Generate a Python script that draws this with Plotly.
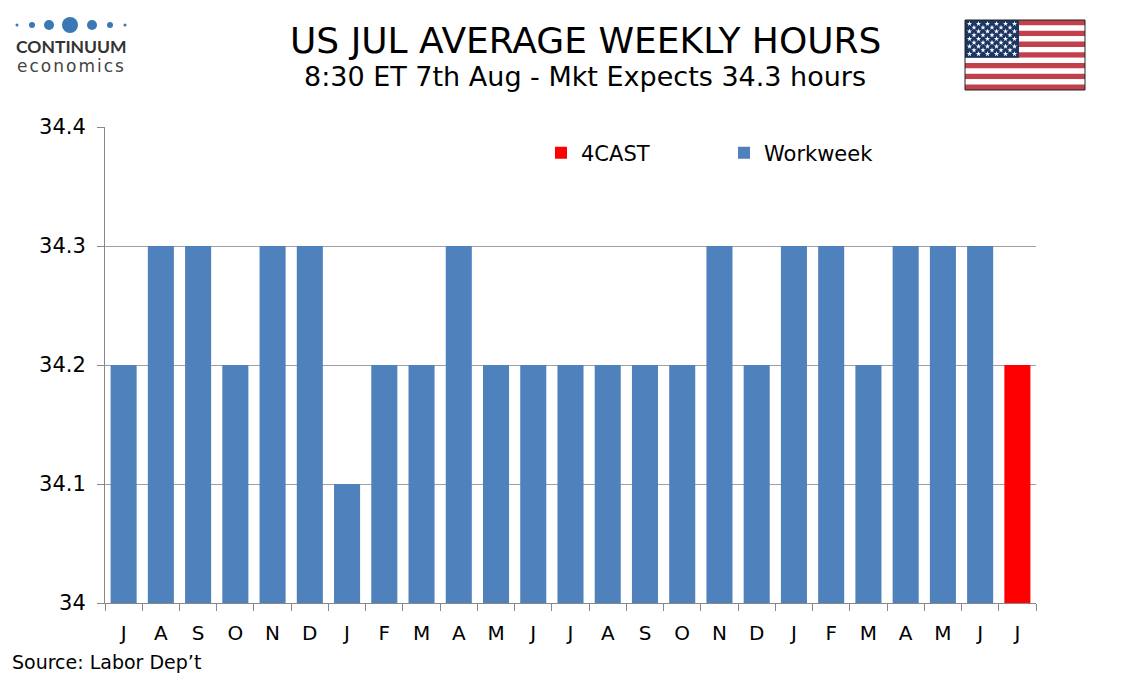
import plotly.graph_objects as go

months = ["J", "A", "S", "O", "N", "D", "J", "F", "M", "A", "M", "J",
          "J", "A", "S", "O", "N", "D", "J", "F", "M", "A", "M", "J", "J"]
workweek = [34.2, 34.3, 34.3, 34.2, 34.3, 34.3, 34.1, 34.2, 34.2, 34.3, 34.2, 34.2,
            34.2, 34.2, 34.2, 34.2, 34.3, 34.2, 34.3, 34.3, 34.2, 34.3, 34.3, 34.3]
forecast = [34.2]
y_ticks = [34.0, 34.1, 34.2, 34.3, 34.4]
y_ticktext = ["34", "34.1", "34.2", "34.3", "34.4"]

# page body margin offset
OX, OY = 8, 8
W, H = 1134 - OX, 680 - OY
L, R, T, B = 105, 1036, 127, 603

def px(x):
    return (x - OX) / W

def py(y):
    return 1 - (y - OY) / H

xs = list(range(len(months)))

fig = go.Figure()
fig.add_trace(go.Bar(x=xs[len(workweek):], y=forecast, name="4CAST",
                     marker=dict(color="#ff0000", line=dict(width=0)), width=0.7))
fig.add_trace(go.Bar(x=xs[:len(workweek)], y=workweek, name="Workweek",
                     marker=dict(color="#4f81bd", line=dict(width=0)), width=0.7))

# Flag stars (decoration)
fx0, fx1, fy0, fy1 = 965, 1085, 20, 90
sh = (fy1 - fy0) / 13
star_x, star_y = [], []
for r in range(9):
    n = 6 if r % 2 == 0 else 5
    off = 1 if r % 2 == 0 else 2
    for c in range(n):
        star_x.append(off + 2 * c)
        star_y.append(9 - r)
fig.add_trace(go.Scatter(x=star_x, y=star_y, mode="markers", xaxis="x2", yaxis="y2",
                         marker=dict(symbol="star", size=4, color="white", line=dict(width=0)),
                         showlegend=False, hoverinfo="skip"))

shapes = []
for i in range(13):
    shapes.append(dict(type="rect", xref="paper", yref="paper",
                       x0=px(fx0), x1=px(fx1), y0=py(fy0 + i * sh), y1=py(fy0 + (i + 1) * sh),
                       fillcolor="#c0404c" if i % 2 == 0 else "white", line=dict(width=0), layer="below"))
shapes.append(dict(type="rect", xref="paper", yref="paper",
                   x0=px(fx0), x1=px(1019), y0=py(fy0), y1=py(fy0 + 7 * sh),
                   fillcolor="#1c3664", line=dict(width=0), layer="below"))
shapes.append(dict(type="rect", xref="paper", yref="paper",
                   x0=px(fx0), x1=px(fx1), y0=py(fy0), y1=py(fy1),
                   fillcolor="rgba(0,0,0,0)", line=dict(width=1, color="#222"), layer="above"))
# logo dots
for cx, d in [(17, 3), (32, 6), (49, 10), (70, 16), (92, 10), (110, 6), (125, 3)]:
    shapes.append(dict(type="circle", xref="paper", yref="paper",
                       x0=px(cx - d / 2), x1=px(cx + d / 2), y0=py(25 + d / 2), y1=py(25 - d / 2),
                       fillcolor="#3b78b4", line=dict(width=0)))

annotations = [
    dict(text="US JUL AVERAGE WEEKLY HOURS", x=px(585), y=py(40), xref="paper", yref="paper",
         showarrow=False, font=dict(size=36, color="#000", family="DejaVu Sans"),
         xanchor="center", yanchor="middle"),
    dict(text="8:30 ET 7th Aug - Mkt Expects 34.3 hours", x=px(585), y=py(77), xref="paper", yref="paper",
         showarrow=False, font=dict(size=27, color="#000", family="DejaVu Sans"),
         xanchor="center", yanchor="middle"),
    dict(text="Source: Labor Dep\u2019t", x=px(10), y=py(662), xref="paper", yref="paper",
         showarrow=False, font=dict(size=19, color="#000", family="DejaVu Sans"),
         xanchor="left", yanchor="middle"),
    dict(text="<b>CONTINUUM</b>", x=px(14), y=py(46), xref="paper", yref="paper",
         showarrow=False, font=dict(size=17.5, color="#333", family="Lato"),
         xanchor="left", yanchor="middle"),
    dict(text="<span style='letter-spacing:2px'>economics</span>", x=px(15), y=py(66),
         xref="paper", yref="paper",
         showarrow=False, font=dict(size=17, color="#444", family="DejaVu Sans"),
         xanchor="left", yanchor="middle"),
]

fig.update_layout(
    width=W, height=H,
    margin=dict(l=0, r=0, t=0, b=0, pad=0),
    paper_bgcolor="white", plot_bgcolor="white",
    barmode="overlay",
    font=dict(family="DejaVu Sans", size=20, color="#000"),
    showlegend=True,
    legend=dict(orientation="h", x=px(541), y=py(153), xanchor="left", yanchor="middle",
                font=dict(size=21), entrywidth=138, bgcolor="rgba(0,0,0,0)",
                itemwidth=30),
    xaxis=dict(domain=[px(L), px(R)], range=[-0.5, len(months) - 0.5], tickmode="array",
               tickvals=xs, ticktext=months, anchor="y", automargin=False,
               ticks="", showgrid=False, showline=True, linecolor="#888", linewidth=1,
               zeroline=False, ticklabelstandoff=12,
               minor=dict(tickmode="array", tickvals=[i - 0.5 for i in range(len(months) + 1)],
                          ticks="outside", ticklen=7, tickcolor="#888", showgrid=False)),
    yaxis=dict(domain=[py(B), py(T)], range=[34.0, 34.4], tickmode="array", tickvals=y_ticks,
               ticktext=y_ticktext, anchor="x", automargin=False, tickfont=dict(size=21),
               showgrid=True, gridcolor="#a0a0a0", gridwidth=1, showline=True, linecolor="#888",
               ticks="outside", ticklen=7, tickcolor="#888", zeroline=False, ticklabelstandoff=7),
    xaxis2=dict(domain=[px(fx0), px(1019)], range=[0, 12], visible=False, fixedrange=True,
                anchor="y2", automargin=False),
    yaxis2=dict(domain=[py(fy0 + 7 * sh), py(fy0)], range=[0, 10], visible=False, fixedrange=True,
                anchor="x2", automargin=False),
    shapes=shapes,
    annotations=annotations,
)

fig.write_html("out.html")
